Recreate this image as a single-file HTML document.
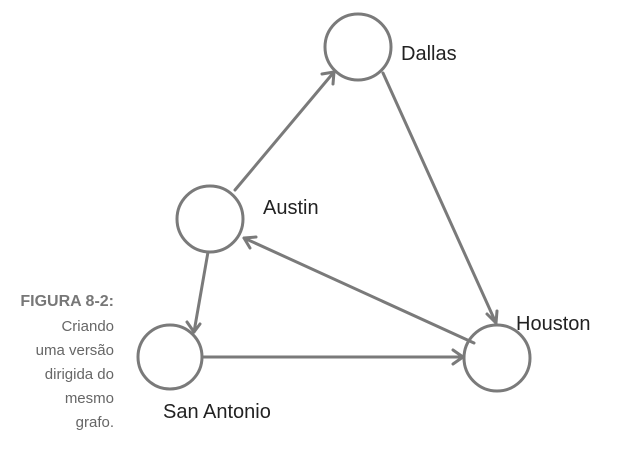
<!DOCTYPE html>
<html><head><meta charset="utf-8"><style>
html,body{margin:0;padding:0;background:#fff;width:631px;height:455px;overflow:hidden}
svg{display:block}
</style></head><body>
<svg width="631" height="455" viewBox="0 0 631 455" xmlns="http://www.w3.org/2000/svg">
<g fill="none" stroke="#7a7a7a" stroke-width="3" stroke-linecap="round" stroke-linejoin="round">
<circle cx="358" cy="47" r="33"/>
<circle cx="210" cy="219" r="33"/>
<circle cx="170" cy="357" r="32"/>
<circle cx="497" cy="358" r="33"/>
<line x1="235" y1="190" x2="334" y2="72"/>
<polyline points="322,74 334,72 333,84"/>
<line x1="383" y1="73" x2="496" y2="323"/>
<polyline points="487,314 496,323 497,311"/>
<line x1="474" y1="343" x2="244" y2="238"/>
<polyline points="250,248 244,238 256,237"/>
<line x1="208" y1="252" x2="194" y2="332"/>
<polyline points="187,322 194,332 200,324"/>
<line x1="203" y1="357" x2="463" y2="357"/>
<polyline points="453,350 463,357 453,364"/>
</g>
<g font-family="Liberation Sans, sans-serif" font-size="20" fill="#222">
<text x="401" y="60">Dallas</text>
<text x="263" y="214">Austin</text>
<text x="516" y="330">Houston</text>
<text x="163" y="418">San Antonio</text>
</g>
<g font-family="Liberation Sans, sans-serif" font-size="15" fill="#666" text-anchor="end">
<text x="114" y="306" font-size="16" font-weight="bold" fill="#777">FIGURA 8-2:</text>
<text x="114" y="331">Criando</text>
<text x="114" y="355">uma versão</text>
<text x="114" y="379">dirigida do</text>
<text x="114" y="403">mesmo</text>
<text x="114" y="427">grafo.</text>
</g>
</svg>
</body></html>
